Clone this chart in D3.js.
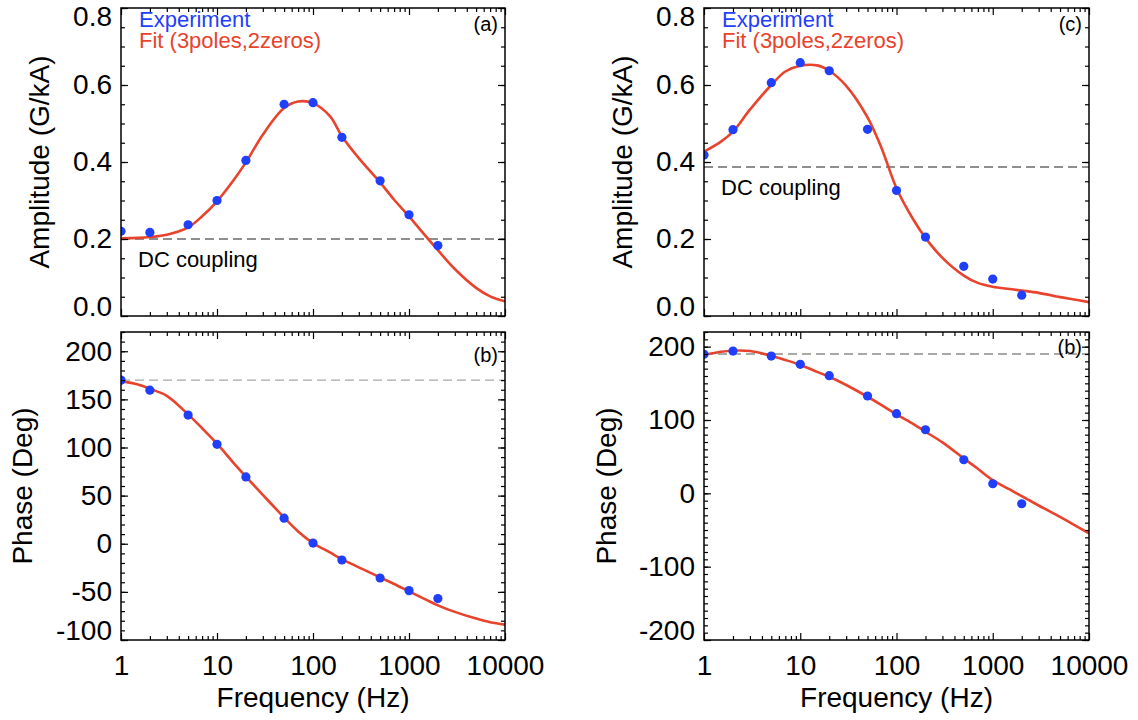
<!DOCTYPE html>
<html>
<head>
<meta charset="utf-8">
<script src="https://cdn.jsdelivr.net/npm/d3@7"></script>
<style>
  html, body { margin: 0; padding: 0; background: #fff; }
  svg { display: block; font-family: "Liberation Sans", Arial, Helvetica, sans-serif; }
</style>
</head>
<body>
<svg id="chart" width="1138" height="720"></svg>
<script>
// Measured frequencies (Hz)
const freqs = [1, 2, 5, 10, 20, 50, 100, 200, 500, 1000, 2000];

// Experiment, left probe: amplitude (G/kA) and phase (deg)
const ampA   = [0.220, 0.217, 0.237, 0.300, 0.404, 0.550, 0.554, 0.464, 0.351, 0.263, 0.183];
const phaseA = [170, 159.6, 133.7, 103.3, 69.4, 26.6, 0.7, -16.9, -35.6, -48.7, -57];

// Experiment, right probe: amplitude (G/kA) and phase (deg)
const ampC   = [0.418, 0.484, 0.606, 0.658, 0.637, 0.485, 0.326, 0.205, 0.129, 0.096, 0.054];
const phaseC = [189.5, 194, 187.2, 175.9, 160.4, 132.7, 108.6, 86.7, 45.8, 13.1, -14.2];

// Fit (3 poles, 2 zeros), evaluated on a denser frequency grid
const fitFreqs  = [1, 1.5, 2, 3, 5, 7, 10, 15, 20, 30, 50, 70, 100, 150, 200, 300, 500, 700, 1000, 1500, 2000, 3000, 5000, 7000, 10000];
const fitAmpA   = [0.202, 0.203, 0.205, 0.211, 0.230, 0.259, 0.298, 0.354, 0.399, 0.471, 0.540, 0.557, 0.553, 0.519, 0.467, 0.410, 0.347, 0.302, 0.259, 0.207, 0.171, 0.122, 0.073, 0.051, 0.038];
const fitPhaseA = [169, 165.5, 161, 153.7, 134.4, 120, 104, 83.6, 69.8, 50.8, 27.3, 12.8, 0.7, -9, -16, -24.5, -35, -41.8, -49.4, -58, -64, -70.8, -77.7, -81.5, -84];
const fitAmpC   = [0.427, 0.453, 0.479, 0.536, 0.600, 0.635, 0.650, 0.651, 0.637, 0.598, 0.516, 0.436, 0.332, 0.250, 0.203, 0.151, 0.105, 0.086, 0.076, 0.070, 0.066, 0.060, 0.049, 0.043, 0.036];
const fitPhaseC = [188.6, 193, 194.5, 194, 187.6, 181.8, 175, 165.6, 159, 147.7, 131.7, 120.4, 107.7, 94.5, 84, 69.5, 47.7, 33.5, 18, 5.3, -3.8, -16.6, -32.2, -43, -54.5];

// DC coupling reference levels
const dcAmpA = 0.2, dcPhaseA = 170, dcAmpC = 0.387, dcPhaseC = 190;

// Tick values
const xTicks = [1, 10, 100, 1000, 10000];
const xMinorTicks = [1, 10, 100, 1000].flatMap(d => [2, 3, 4, 5, 6, 7, 8, 9].map(m => m * d));
const ampTicks = [0, 0.2, 0.4, 0.6, 0.8];
const ampMinor = d3.range(0, 0.8001, 0.05);
const phaseTicksA = [-100, -50, 0, 50, 100, 150, 200];
const phaseMinorA = d3.range(-100, 220.1, 10);
const phaseTicksC = [-200, -100, 0, 100, 200];
const phaseMinorC = d3.range(-200, 220.1, 10);

const BLUE = "#1f3ffb";
const RED = "#e8432d";

// plain hyphen-minus integer labels
const intFmt = d => String(Math.round(d));

const panels = [
  { id: "a", left: 121, right: 505, top: 8, bottom: 316, yDomain: [0, 0.8],
    ticks: ampTicks, minor: ampMinor, fmt: d3.format(".1f"),
    pts: ampA, fit: fitAmpA, dc: dcAmpA, dcColor: "#6a6a6a",
    tag: "(a)", tagY: 31, title: "Amplitude (G/kA)", titleOff: 72,
    legend: true, dcLabel: true, xLabels: false },
  { id: "b", left: 121, right: 505, top: 332, bottom: 640, yDomain: [-100, 220],
    ticks: phaseTicksA, minor: phaseMinorA, fmt: intFmt,
    pts: phaseA, fit: fitPhaseA, dc: dcPhaseA, dcColor: "#a8a8a8",
    tag: "(b)", tagY: 362, title: "Phase (Deg)", titleOff: 89,
    legend: false, dcLabel: false, xLabels: true },
  { id: "c", left: 704, right: 1089, top: 8, bottom: 316, yDomain: [0, 0.8],
    ticks: ampTicks, minor: ampMinor, fmt: d3.format(".1f"),
    pts: ampC, fit: fitAmpC, dc: dcAmpC, dcColor: "#6a6a6a",
    tag: "(c)", tagY: 31, title: "Amplitude (G/kA)", titleOff: 72,
    legend: true, dcLabel: true, xLabels: false },
  { id: "d", left: 704, right: 1089, top: 332, bottom: 640, yDomain: [-200, 220],
    ticks: phaseTicksC, minor: phaseMinorC, fmt: intFmt,
    pts: phaseC, fit: fitPhaseC, dc: dcPhaseC, dcColor: "#8c8c8c",
    tag: "(b)", tagY: 354, title: "Phase (Deg)", titleOff: 88,
    legend: false, dcLabel: false, xLabels: true }
];

const svg = d3.select("#chart");
const defs = svg.append("defs");

panels.forEach(p => {
  const x = d3.scaleLog().domain([1, 10000]).range([p.left, p.right]);
  const y = d3.scaleLinear().domain(p.yDomain).range([p.bottom, p.top]);
  const g = svg.append("g");

  defs.append("clipPath").attr("id", "clip-" + p.id)
    .append("rect")
    .attr("x", p.left).attr("y", p.top)
    .attr("width", p.right - p.left).attr("height", p.bottom - p.top);

  // DC coupling reference
  g.append("line")
    .attr("x1", p.left).attr("x2", p.right)
    .attr("y1", y(p.dc)).attr("y2", y(p.dc))
    .attr("stroke", p.dcColor).attr("stroke-width", 1.3)
    .attr("stroke-dasharray", "9,5");

  if (p.dcLabel) {
    g.append("text")
      .attr("x", p.left + 17).attr("y", y(p.dc) + 28)
      .attr("font-size", 22).attr("fill", "#000")
      .text("DC coupling");
  }

  const plot = g.append("g").attr("clip-path", "url(#clip-" + p.id + ")");

  // fit curve
  const line = d3.line()
    .x(d => x(d[0])).y(d => y(d[1]))
    .curve(d3.curveCatmullRom.alpha(0.5));
  plot.append("path")
    .datum(fitFreqs.map((f, i) => [f, p.fit[i]]))
    .attr("d", line)
    .attr("fill", "none").attr("stroke", RED).attr("stroke-width", 2.6)
    .attr("stroke-linejoin", "round");

  // measured points
  plot.selectAll("circle")
    .data(freqs.map((f, i) => [f, p.pts[i]]))
    .join("circle")
    .attr("cx", d => x(d[0])).attr("cy", d => y(d[1]))
    .attr("r", 4.6).attr("fill", BLUE);

  // axes: ticks pointing inward on all four sides
  const styleAxis = sel => {
    sel.select(".domain").remove();
    sel.selectAll(".tick line").attr("stroke", "#000").attr("stroke-width", 1.2);
  };
  const fontAxis = sel => sel.selectAll("text")
    .attr("font-size", 28).attr("fill", "#000")
    .attr("font-family", "\"Liberation Sans\", Arial, Helvetica, sans-serif");

  // bottom
  const bx = g.append("g").attr("transform", `translate(0,${p.bottom})`)
    .call(d3.axisBottom(x).tickValues(xTicks).tickSize(-7).tickSizeOuter(0).tickPadding(15)
      .tickFormat(p.xLabels ? intFmt : () => ""));
  styleAxis(bx); fontAxis(bx);
  g.append("g").attr("transform", `translate(0,${p.bottom})`)
    .call(d3.axisBottom(x).tickValues(xMinorTicks).tickSize(-4).tickSizeOuter(0).tickFormat(() => ""))
    .call(styleAxis);
  // top
  g.append("g").attr("transform", `translate(0,${p.top})`)
    .call(d3.axisTop(x).tickValues(xTicks).tickSize(-7).tickSizeOuter(0).tickFormat(() => ""))
    .call(styleAxis);
  g.append("g").attr("transform", `translate(0,${p.top})`)
    .call(d3.axisTop(x).tickValues(xMinorTicks).tickSize(-4).tickSizeOuter(0).tickFormat(() => ""))
    .call(styleAxis);
  // left
  const ly = g.append("g").attr("transform", `translate(${p.left},0)`)
    .call(d3.axisLeft(y).tickValues(p.ticks).tickSize(-7).tickSizeOuter(0).tickPadding(9).tickFormat(p.fmt));
  styleAxis(ly); fontAxis(ly);
  // keep end labels inside the frame's vertical extent
  ly.selectAll(".tick text").attr("y", d => {
    const pos = y(d);
    const c = Math.max(p.top + 9, Math.min(p.bottom - 9, pos));
    return c - pos;
  });
  g.append("g").attr("transform", `translate(${p.left},0)`)
    .call(d3.axisLeft(y).tickValues(p.minor).tickSize(-4).tickSizeOuter(0).tickFormat(() => ""))
    .call(styleAxis);
  // right
  g.append("g").attr("transform", `translate(${p.right},0)`)
    .call(d3.axisRight(y).tickValues(p.ticks).tickSize(-7).tickSizeOuter(0).tickFormat(() => ""))
    .call(styleAxis);
  g.append("g").attr("transform", `translate(${p.right},0)`)
    .call(d3.axisRight(y).tickValues(p.minor).tickSize(-4).tickSizeOuter(0).tickFormat(() => ""))
    .call(styleAxis);

  // frame
  g.append("rect")
    .attr("x", p.left).attr("y", p.top)
    .attr("width", p.right - p.left).attr("height", p.bottom - p.top)
    .attr("fill", "none").attr("stroke", "#000").attr("stroke-width", 1.5);

  // axis titles
  g.append("text")
    .attr("transform", `translate(${p.left - p.titleOff},${(p.top + p.bottom) / 2}) rotate(-90)`)
    .attr("text-anchor", "middle").attr("font-size", 28).attr("fill", "#000")
    .text(p.title);
  if (p.xLabels) {
    g.append("text")
      .attr("x", (p.left + p.right) / 2).attr("y", 707)
      .attr("text-anchor", "middle").attr("font-size", 28).attr("fill", "#000")
      .text("Frequency (Hz)");
  }

  // panel tag
  g.append("text")
    .attr("x", p.right - 7).attr("y", p.tagY)
    .attr("text-anchor", "end").attr("font-size", 20).attr("fill", "#000")
    .text(p.tag);

  // legend
  if (p.legend) {
    g.append("text").attr("x", p.left + 18).attr("y", p.top + 19)
      .attr("font-size", 22).attr("fill", BLUE).text("Experiment");
    g.append("text").attr("x", p.left + 18).attr("y", p.top + 40)
      .attr("font-size", 22).attr("fill", RED).text("Fit (3poles,2zeros)");
  }
});
</script>
</body>
</html>
